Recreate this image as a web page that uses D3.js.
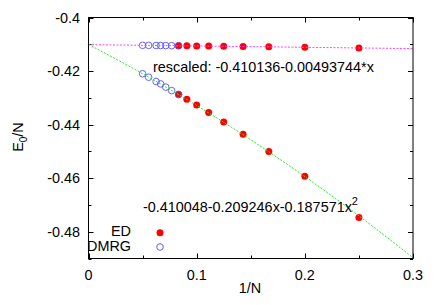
<!DOCTYPE html>
<html>
<head>
<meta charset="utf-8">
<script src="https://cdn.jsdelivr.net/npm/d3@7"></script>
<style>
  body { margin: 0; background: #fff; }
  text { font-family: "Liberation Sans", Arial, sans-serif; font-size: 14.4px; fill: #000; }
</style>
</head>
<body>
<div id="chart"></div>
<script>
// Data (1/N on x, E0/N on y)
const edInvN = [0.25, 0.2, 0.1667, 0.1429, 0.125, 0.1111, 0.1, 0.0909, 0.0833]
const edE = [-0.4747, -0.4593, -0.4500, -0.4436, -0.4390, -0.4355, -0.4327, -0.4305, -0.4287]
const edRescaled = [-0.41137, -0.41112, -0.41096, -0.41084, -0.41075, -0.41068, -0.41063, -0.41058, -0.41055]

const dmrgInvN = [0.05, 0.0556, 0.0625, 0.0667, 0.0714, 0.0769, 0.0833]
const dmrgE = [-0.4210, -0.4223, -0.4239, -0.4248, -0.4260, -0.4273, -0.4288]
const dmrgRescaled = [-0.41039, -0.41041, -0.41045, -0.41047, -0.41049, -0.41052, -0.41055]

// fit curves
const quadFitX = [0, 0.05, 0.1, 0.15, 0.2, 0.25, 0.3]
const quadFitY = [-0.41005, -0.42098, -0.43285, -0.44566, -0.45940, -0.47408, -0.48970]
const linFitX = [0, 0.3]
const linFitY = [-0.41014, -0.41162]

const xTicks = [0, 0.1, 0.2, 0.3]
const yTicks = [-0.4, -0.42, -0.44, -0.46, -0.48]

// Dimensions
const width = 436, height = 305
const margin = { left: 88.5, right: 23, top: 17.5, bottom: 46.5 }

const svg = d3.select('#chart')
  .append('svg')
  .attr('width', width)
  .attr('height', height)

// Scales
const x = d3.scaleLinear().domain([0, 0.3]).range([margin.left, width - margin.right])
const y = d3.scaleLinear().domain([-0.49, -0.4]).range([height - margin.bottom, margin.top])

// Ticks (inward, mirrored)
const ticks = svg.append('g').attr('stroke', '#000').attr('stroke-width', 1)
d3.range(0, 0.3001, 0.05).forEach((v, i) => {
  const len = i % 2 ? 3 : 5
  const px = Math.round(x(v)) + 0.5
  ticks.append('line').attr('x1', px).attr('x2', px).attr('y1', y(-0.49)).attr('y2', y(-0.49) - len)
  ticks.append('line').attr('x1', px).attr('x2', px).attr('y1', y(-0.4)).attr('y2', y(-0.4) + len)
})
d3.range(-0.49, -0.3999, 0.01).forEach((v, i) => {
  const len = i % 2 ? 5 : 3
  const py = Math.round(y(v)) + 0.5
  ticks.append('line').attr('x1', x(0)).attr('x2', x(0) + len).attr('y1', py).attr('y2', py)
  ticks.append('line').attr('x1', x(0.3)).attr('x2', x(0.3) - len).attr('y1', py).attr('y2', py)
})

// Tick labels
svg.append('g').selectAll('text')
  .data(xTicks)
  .join('text')
  .attr('x', d => x(d))
  .attr('y', 280)
  .attr('text-anchor', 'middle')
  .text(d => d)

svg.append('g').selectAll('text')
  .data(yTicks)
  .join('text')
  .attr('x', 80)
  .attr('y', d => y(d) + 5)
  .attr('text-anchor', 'end')
  .text(d => d)

// Axis titles
svg.append('text')
  .attr('x', 250)
  .attr('y', 293)
  .attr('text-anchor', 'middle')
  .text('1/N')

const yl = svg.append('text')
  .attr('transform', 'translate(23,137) rotate(-90)')
  .attr('text-anchor', 'middle')
yl.append('tspan').text('E')
yl.append('tspan').attr('dy', 4).style('font-size', '10px').text('0')
yl.append('tspan').attr('dy', -4).text('/N')

// Points
svg.append('g')
  .attr('fill', '#ff0000')
  .selectAll('circle')
  .data(edInvN.flatMap((d, i) => [[d, edE[i]], [d, edRescaled[i]]]))
  .join('circle')
  .attr('cx', d => x(d[0]))
  .attr('cy', d => y(d[1]))
  .attr('r', 3.5)

svg.append('g')
  .attr('fill', 'none')
  .attr('stroke', '#5050ff')
  .attr('stroke-width', 0.9)
  .selectAll('circle')
  .data(dmrgInvN.flatMap((d, i) => [[d, dmrgE[i]], [d, dmrgRescaled[i]]]))
  .join('circle')
  .attr('cx', d => x(d[0]))
  .attr('cy', d => y(d[1]))
  .attr('r', 3.3)

// Fit lines
const line = d3.line().x(d => x(d[0])).y(d => y(d[1])).curve(d3.curveMonotoneX)
svg.append('path')
  .datum(quadFitX.map((d, i) => [d, quadFitY[i]]))
  .attr('d', line)
  .attr('fill', 'none')
  .attr('stroke', '#22ee22')
  .attr('stroke-width', 1)
  .attr('stroke-dasharray', '2,1.5')

svg.append('path')
  .datum(linFitX.map((d, i) => [d, linFitY[i]]))
  .attr('d', line)
  .attr('fill', 'none')
  .attr('stroke', '#ff44ff')
  .attr('stroke-width', 1)
  .attr('stroke-dasharray', '2,1.5')

// Frame
svg.append('rect')
  .attr('x', x(0))
  .attr('y', y(-0.4))
  .attr('width', x(0.3) - x(0))
  .attr('height', y(-0.49) - y(-0.4))
  .attr('fill', 'none')
  .attr('stroke', '#000')

// Fit labels
svg.append('text')
  .attr('x', 153)
  .attr('y', 72)
  .text('rescaled: -0.410136-0.00493744*x')

const q = svg.append('text')
  .attr('x', 143)
  .attr('y', 211.5)
q.append('tspan').text('-0.410048-0.209246x-0.187571x')
q.append('tspan').attr('dy', -7).style('font-size', '11px').text('2')

// Legend
svg.append('text').attr('x', 131).attr('y', 236).attr('text-anchor', 'end').text('ED')
svg.append('text').attr('x', 131).attr('y', 251).attr('text-anchor', 'end').text('DMRG')
svg.append('circle').attr('cx', 160).attr('cy', 232.7).attr('r', 3.5).attr('fill', '#ff0000')
svg.append('circle').attr('cx', 160).attr('cy', 247).attr('r', 3.3)
  .attr('fill', 'none').attr('stroke', '#5050ff').attr('stroke-width', 0.9)
</script>
</body>
</html>
